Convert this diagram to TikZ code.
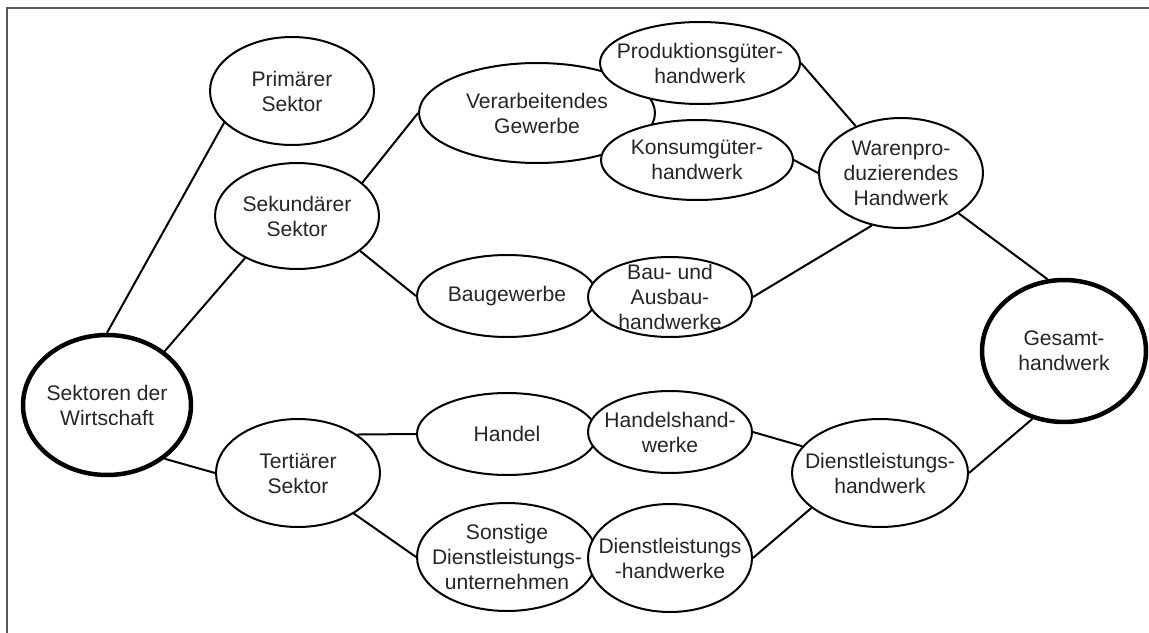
\documentclass[tikz,border=0pt]{standalone}
\usepackage{fontspec}
\setmainfont{Liberation Sans}
\usepackage{tikz}
\usetikzlibrary{shapes.geometric}

\tikzset{
  sektor/.style={ellipse, draw, fill=white, line width=0.04cm, inner sep=0pt},
  haupt/.style={sektor, line width=0.09cm},
  lbl/.style={align=center, inner sep=0pt, text=black!85,
              font=\fontsize{12}{14.2}\selectfont},
  conn/.style={-, line width=0.04cm},
}

\begin{document}
\begin{tikzpicture}[x=0.02cm,y=-0.02cm]
      \useasboundingbox (0,0) rectangle (1149,632);
      \draw[gray!70!black, line width=0.03cm] (7,640) -- (7,8) -- (1160,8);

      \node[haupt, minimum width=3.36cm, minimum height=2.8cm, label={[lbl]center:Sektoren der\\Wirtschaft}] (sek) at (107,405) {};
      \node[sektor, minimum width=3.28cm, minimum height=2.16cm, label={[lbl]center:Primärer\\Sektor}] (prim) at (292,91) {};
      \node[sektor, minimum width=3.28cm, minimum height=2.12cm, label={[lbl]center:Sekundärer\\Sektor}] (sekun) at (297,216) {};
      \node[sektor, minimum width=3.28cm, minimum height=2.16cm, label={[lbl]center:Tertiärer\\Sektor}] (tert) at (298,473) {};

      \node[sektor, minimum width=4.72cm, minimum height=2.0cm, label={[lbl]center:Verarbeitendes\\Gewerbe}] (verarb) at (537,113) {};
      \node[sektor, minimum width=4.0cm, minimum height=1.64cm, label={[lbl]center:Produktionsgüter-\\handwerk}] (prod) at (700,63) {};
      \node[sektor, minimum width=3.84cm, minimum height=1.6cm, label={[lbl]center:Konsumgüter-\\handwerk}] (kons) at (697,160) {};

      \node[sektor, minimum width=3.6cm, minimum height=1.64cm, label={[lbl]center:Baugewerbe}] (bau) at (507,296) {};
      \node[sektor, minimum width=3.28cm, minimum height=1.6cm, label={[lbl]center:Bau- und\\Ausbau-\\handwerke}] (ausbau) at (670,297) {};

      \node[sektor, minimum width=3.6cm, minimum height=1.64cm, label={[lbl]center:Handel}] (handel) at (507,434) {};
      \node[sektor, minimum width=3.28cm, minimum height=1.64cm, label={[lbl]center:Handelshand-\\werke}] (hhw) at (670,432) {};

      \node[sektor, minimum width=3.6cm, minimum height=2.16cm, label={[lbl]center:Sonstige\\Dienstleistungs-\\unternehmen}] (sonst) at (507,557) {};
      \node[sektor, minimum width=3.28cm, minimum height=2.16cm, label={[lbl]center:Dienstleistungs\\-handwerke}] (dlhwe) at (670,558) {};

      \node[sektor, minimum width=3.28cm, minimum height=2.2cm, label={[lbl]center:Warenpro-\\duzierendes\\Handwerk}] (waren) at (901,173) {};
      \node[sektor, minimum width=3.52cm, minimum height=2.16cm, label={[lbl]center:Dienstleistungs-\\handwerk}] (dlhw) at (880,473) {};
      \node[haupt, minimum width=3.28cm, minimum height=2.84cm, label={[lbl]center:Gesamt-\\handwerk}] (gesamt) at (1064,351) {};

      \path[conn]
      (sek.90) edge (prim.205)
      (sek.43) edge (sekun.219)
      (sek.317) edge (tert.180)

      (sekun.27) edge (verarb.180)
      (sekun.331) edge (bau.180)

      (tert.33) edge (handel.180)
      (tert.324) edge (sonst.180)

      (prod.0) edge (waren.134)
      (kons.0) edge (waren.180)
      (ausbau.0) edge (waren.241)
      (waren.325) edge (gesamt.103)

      (hhw.0) edge (dlhw.161)
      (dlhwe.0) edge (dlhw.207)
      (dlhw.0) edge (gesamt.245);

\end{tikzpicture}
\end{document}
